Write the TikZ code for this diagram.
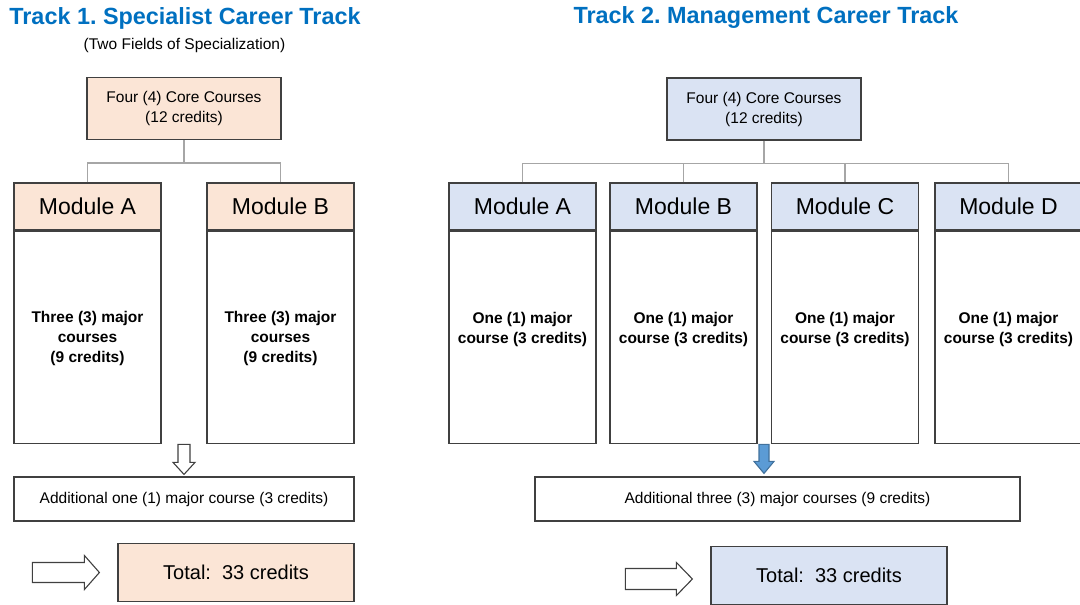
\documentclass[tikz,border=0pt]{standalone}
\usepackage{fontspec}
\setmainfont{Liberation Sans}
\usetikzlibrary{calc}
\frenchspacing

\definecolor{titleblue}{HTML}{0070C0}
\definecolor{peach}{HTML}{FBE5D6}
\definecolor{paleblue}{HTML}{DAE3F3}
\definecolor{arrowblue}{HTML}{5B9BD5}
\definecolor{arrowedge}{HTML}{41719C}
\definecolor{boxline}{HTML}{404040}
\definecolor{connline}{HTML}{A6A6A6}

\tikzset{
  box/.style={draw=boxline, line width=1.2pt, inner sep=0pt, align=center,
    font=\fontsize{15.5}{20}\selectfont},
  corebox/.style={box, minimum width=194pt, minimum height=62pt},
  hdr/.style={box, minimum width=147pt, minimum height=47pt,
    font=\fontsize{23}{26}\selectfont},
  bodybox/.style={box, fill=white, minimum width=147pt, minimum height=212pt},
  bodytxt/.style={align=center, inner sep=0pt,
    font=\bfseries\fontsize{15.5}{20}\selectfont},
  addbox/.style={box, minimum height=44pt},
  totbox/.style={box, minimum width=236pt, minimum height=58pt,
    font=\fontsize{20}{24}\selectfont},
  tracktitle/.style={text=titleblue, font=\bfseries\fontsize{23.4}{26}\selectfont},
  conn/.style={draw=connline, line width=1.3pt},
  hollow/.style={draw=boxline, line width=1.1pt, fill=white, line join=miter},
}

\begin{document}
\begin{tikzpicture}[x=1pt, y=-1pt]
\useasboundingbox (0,0) rectangle (1080,605);
\clip (0,0) rectangle (1080,605);

% Track 1
\node[tracktitle] (title1) at (185,18) {Track 1. Specialist Career Track};
\node[font=\fontsize{15.5}{20}\selectfont] (sub1) at (184.5,45) {(Two Fields of Specialization)};

\node[corebox, fill=peach] (core1) at (184,108.5) {Four (4) Core Courses\\(12 credits)};

\node[hdr, fill=peach] (modA1) at (87.5,206.5) {Module A};
\node[hdr, fill=peach] (modB1) at (280.5,206.5) {Module B};
\node[bodybox, anchor=north] (bodyA1) at (modA1.south) {};
\node[bodybox, anchor=north] (bodyB1) at (modB1.south) {};
\node[bodytxt] (txtA1) at ($(bodyA1.center)+(0,1)$) {Three (3) major\\courses\\(9 credits)};
\node[bodytxt] (txtB1) at ($(bodyB1.center)+(0,1)$) {Three (3) major\\courses\\(9 credits)};

\draw[conn] (core1.south) -- ++(0,23) coordinate (j1);
\draw[conn] (modA1.north) |- (j1) -| (modB1.north);

\node[addbox, minimum width=340pt] (add1) at (184,499) {Additional one (1) major course (3 credits)};
\draw[hollow, shift={(add1.north)}] (-6,-32) -- (6,-32) -- (6,-14) -- (11,-14)
  -- (0,-2) -- (-11,-14) -- (-6,-14) -- cycle;

\node[totbox, fill=peach] (tot1) at (236,572.5) {Total:\ \ 33 credits};
\draw[hollow, shift={(tot1.west)}] (-85,-10) -- (-33,-10) -- (-33,-17) -- (-18,0)
  -- (-33,17) -- (-33,10) -- (-85,10) -- cycle;

% Track 2
\node[tracktitle] (title2) at (766,18) {Track 2. Management Career Track};

\node[corebox, fill=paleblue] (core2) at (764,109) {Four (4) Core Courses\\(12 credits)};

\node[hdr, fill=paleblue] (modA2) at (522.5,206.5) {Module A};
\node[hdr, fill=paleblue] (modB2) at (683.5,206.5) {Module B};
\node[hdr, fill=paleblue] (modC2) at (845,206.5) {Module C};
\node[hdr, fill=paleblue] (modD2) at (1008.5,206.5) {Module D};
\node[bodybox, anchor=north] (bodyA2) at (modA2.south) {};
\node[bodybox, anchor=north] (bodyB2) at (modB2.south) {};
\node[bodybox, anchor=north] (bodyC2) at (modC2.south) {};
\node[bodybox, anchor=north] (bodyD2) at (modD2.south) {};
\node[bodytxt] (txtA2) at ($(bodyA2.center)+(0,-8)$) {One (1) major\\course (3 credits)};
\node[bodytxt] (txtB2) at ($(bodyB2.center)+(0,-8)$) {One (1) major\\course (3 credits)};
\node[bodytxt] (txtC2) at ($(bodyC2.center)+(0,-8)$) {One (1) major\\course (3 credits)};
\node[bodytxt] (txtD2) at ($(bodyD2.center)+(0,-8)$) {One (1) major\\course (3 credits)};

\draw[conn] (core2.south) -- ++(0,23) coordinate (j2);
\draw[conn] (modA2.north) |- (j2) -| (modD2.north);
\draw[conn] (modB2.north) -- (modB2.north |- j2);
\draw[conn] (modC2.north) -- (modC2.north |- j2);

\node[addbox, minimum width=485pt] (add2) at (777.5,499) {Additional three (3) major courses (9 credits)};
\draw[draw=arrowedge, line width=1.1pt, fill=arrowblue, shift={(core2.south |- add2.north)}]
  (-5,-32) -- (5,-32) -- (5,-15) -- (10,-15) -- (0,-3) -- (-10,-15) -- (-5,-15) -- cycle;

\node[totbox, fill=paleblue] (tot2) at (829,575.5) {Total:\ \ 33 credits};
\draw[hollow, shift={(tot2.west)}] (-85,-7) -- (-34,-7) -- (-34,-13) -- (-18,3.5)
  -- (-34,20) -- (-34,14) -- (-85,14) -- cycle;

\end{tikzpicture}
\end{document}
